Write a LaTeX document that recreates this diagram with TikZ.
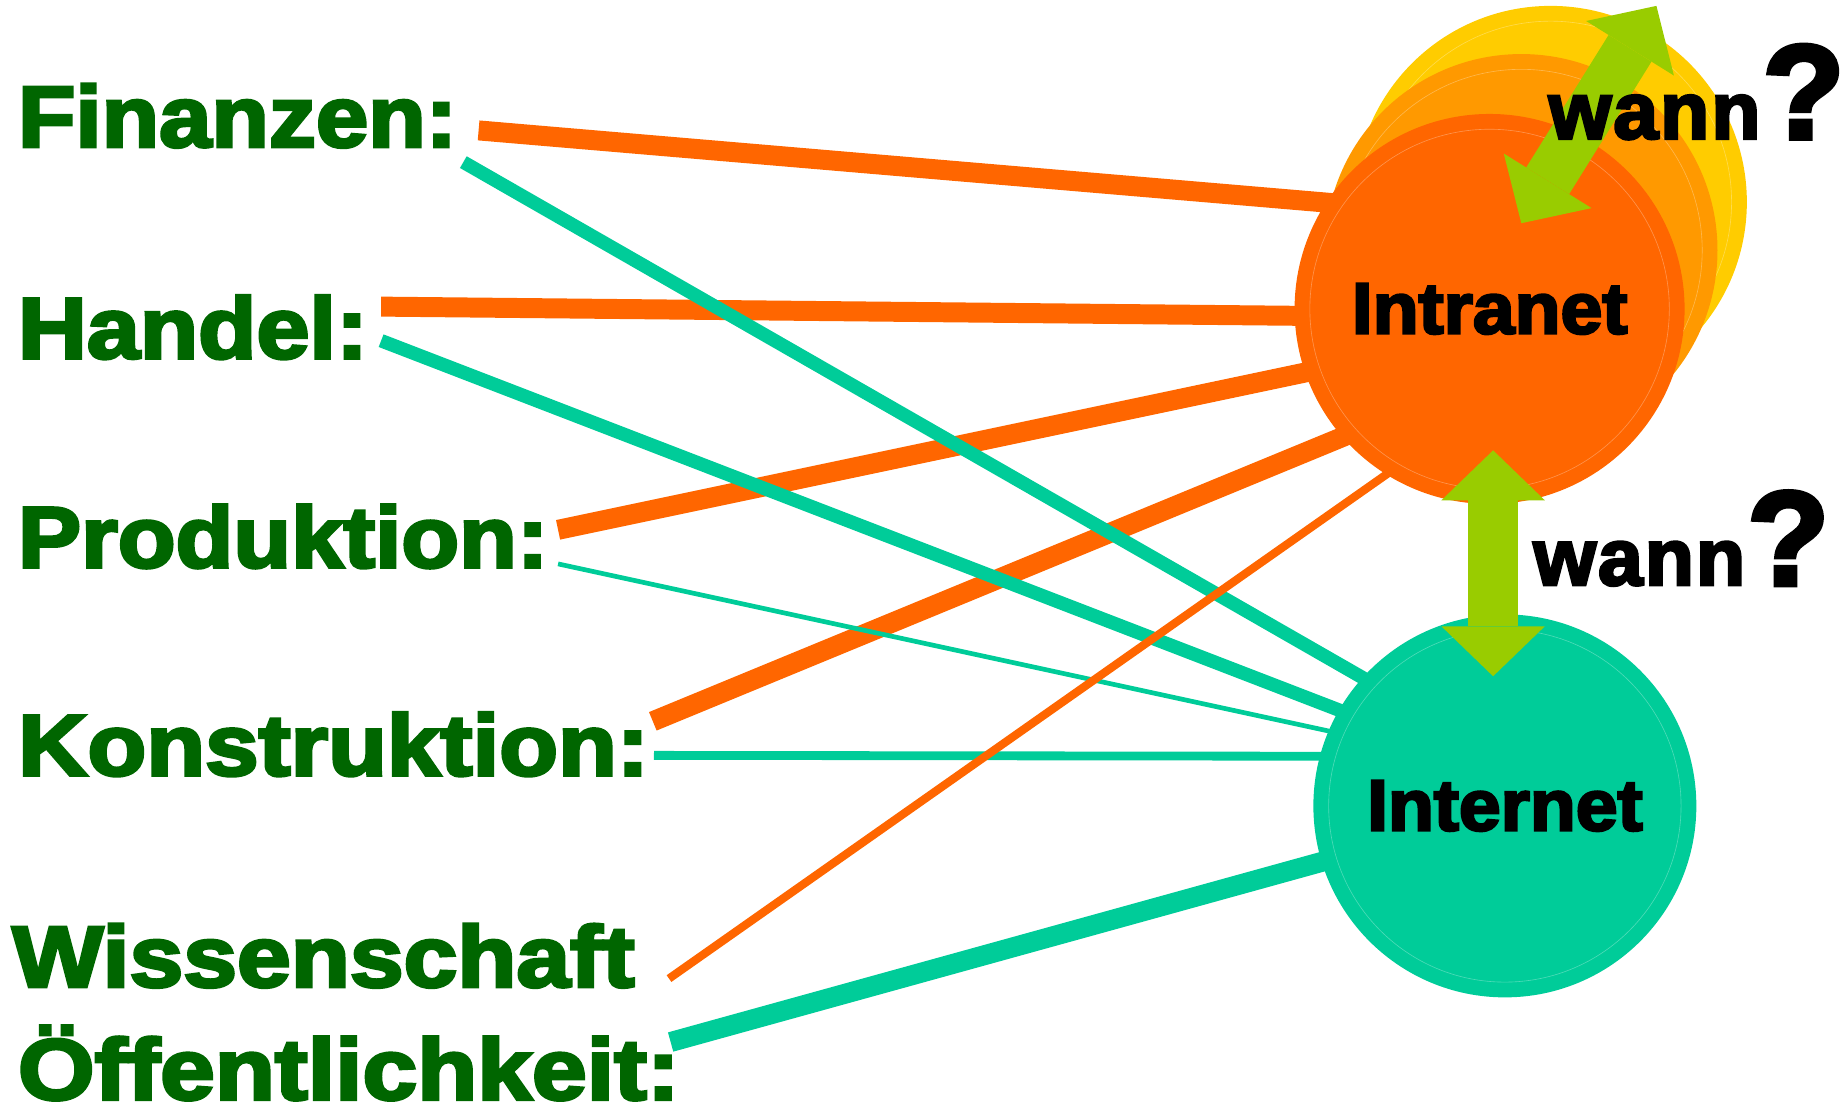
\documentclass[tikz,border=0pt]{standalone}
\usepackage{fontspec}
\usepackage{graphicx}
\usetikzlibrary{arrows.meta, backgrounds}

\newfontfamily\heavyfont{Liberation Sans}[BoldFeatures={FakeBold=3.5}]
\newfontfamily\wannfont{Liberation Sans}[BoldFeatures={FakeBold=3.5, LetterSpace=2.5}]
\newcommand{\breit}[2][1.08]{\scalebox{#1}[1]{#2}}

\definecolor{labgreen}{HTML}{006600}
\definecolor{intraorange}{HTML}{FF6600}
\definecolor{midorange}{HTML}{FF9900}
\definecolor{sunyellow}{HTML}{FFCC00}
\definecolor{netteal}{HTML}{00CC99}
\definecolor{arrowgreen}{HTML}{99CC00}

\tikzset{
  bereich/.style={anchor=base west, inner sep=0pt, text=labgreen,
    font=\heavyfont\bfseries\fontsize{42}{48}\selectfont},
  netz/.style={circle, inner sep=0pt, font=\heavyfont\bfseries\fontsize{35}{40}\selectfont},
  ring/.style={draw=white, draw opacity=0.3, line width=0.3pt},
  olink/.style={color=intraorange, line width=3.4mm, shorten >=-3mm},
  tlink/.style={color=netteal, line width=2.3mm, shorten >=-3mm},
  wannarrow/.style={color=arrowgreen, line width=8.6mm,
    {Triangle[width=17.6mm, length=8.5mm, line width=0pt]}-{Triangle[width=17.6mm, length=8.5mm, line width=0pt]}},
  wann/.style={anchor=base west, inner sep=0pt, font=\wannfont\bfseries\fontsize{39}{44}\selectfont},
  frage/.style={anchor=base west, inner sep=0pt, font=\heavyfont\bfseries\fontsize{65}{70}\selectfont},
}

\begin{document}
\begin{tikzpicture}[x=0.2mm, y=-0.2mm]
    \useasboundingbox (0,0) rectangle (1568,946);

    % Kreise
    \node [netz, fill=sunyellow, minimum size=66.8mm] (gelb) at (1320,172) {};
    \draw [ring] (gelb) circle (154);
    \node [netz, fill=midorange, minimum size=66.8mm] (mittel) at (1295,213) {};
    \draw [ring] (mittel) circle (154);
    \node [netz, fill=intraorange, minimum size=66.4mm] (intranet) at (1268,263) {\breit[1.04]{Intranet}};
    \draw [ring] (intranet) circle (153);
    \node [netz, fill=netteal, minimum size=65.2mm] (internet) at (1281,686) {\breit[1.04]{Internet}};
    \draw [ring] (internet) circle (150);

    % Bereiche
    \node [bereich] (fin) at (15,125) {\breit[1.085]{Finanzen:}};
    \node [bereich] (han) at (15,305) {\breit[1.10]{Handel:}};
    \node [bereich] (pro) at (15,483) {\breit[1.09]{Produktion:}};
    \node [bereich] (kon) at (15,660) {\breit[1.11]{Konstruktion:}};
    \node [bereich] (wis) at (10,840) {\breit[1.115]{Wissenschaft}};
    \node [bereich] (oef) at (15,936) {\breit[1.135]{Öffentlichkeit:}};

    \begin{scope}[on background layer]
        \draw [olink] ([shift={(18,-14)}]fin.base east) -- (intranet.147);
        \draw [olink] ([shift={(11,-44)}]han.base east) -- (intranet.182);
        \draw [olink] ([shift={(8,-32)}]pro.base east) -- (intranet.199);
        \draw [olink] ([shift={(3,-46)}]kon.base east) -- (intranet.221);
        \draw [tlink] ([shift={(5,13)}]fin.base east) -- (internet.138);
        \draw [tlink] ([shift={(11,-15)}]han.base east) -- (internet.150);
        \draw [tlink, line width=0.8mm] ([shift={(8,-3)}]pro.base east) -- (internet.157);
        \draw [tlink, line width=1.5mm] ([shift={(4,-17)}]kon.base east) -- (internet.165);
        \draw [tlink, line width=3.4mm] ([shift={(-8,-49)}]oef.base east) -- (internet.197);
        \draw [olink, line width=1.4mm] ([shift={(29,-7)}]wis.base east) -- (intranet.238);
    \end{scope}

    % Pfeile
    \draw [wannarrow] ([shift={(3,-46)}]intranet.south) -- ([shift={(-10,53)}]internet.north);
    \draw [wannarrow] ([shift={(27,-73)}]intranet.center) -- ([shift={(90,-167)}]gelb.center);

    \node [wann] (wannoben) at (1318,118) {wann};
    \node [frage] (frageoben) at (1500,118) {?};
    \node [wann] (wannunten) at (1305,498) {wann};
    \node [frage] (frageunten) at (1487,498) {?};
\end{tikzpicture}
\end{document}
